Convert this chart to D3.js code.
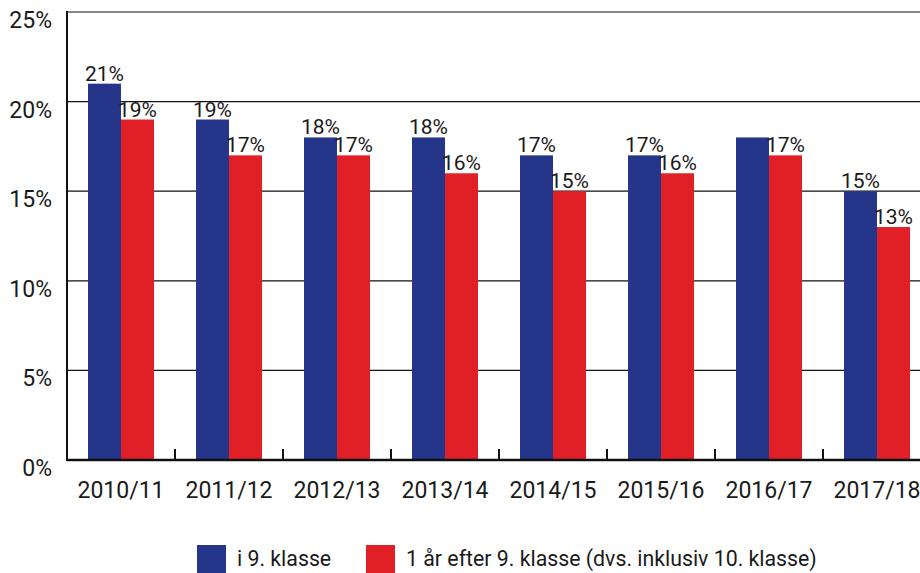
<!doctype html>
<html>
<head>
<style>
    body { margin: 0; background: #fff; }
    text { font-family: Roboto, "Liberation Sans", sans-serif; fill: #1a1a1a; }
</style>
<script src="https://d3js.org/d3.v7.min.js"></script>
</head>
<body>
<svg id="chart" width="920" height="573"></svg>
<script>

    // Data
    var years = ["2010/11", "2011/12", "2012/13", "2013/14", "2014/15", "2015/16", "2016/17", "2017/18"];
    var inNinth = [21, 19, 18, 18, 17, 17, 18, 15];
    var afterNinth = [19, 17, 17, 16, 15, 16, 17, 13];
    // the 2016/17 blue label is not shown in the original
    var inNinthLabels = ["21%", "19%", "18%", "18%", "17%", "17%", null, "15%"];
    var afterNinthLabels = ["19%", "17%", "17%", "16%", "15%", "16%", "17%", "13%"];
    var yTicks = [0, 5, 10, 15, 20, 25];
    var seriesNames = ["i 9. klasse", "1 år efter 9. klasse (dvs. inklusiv 10. klasse)"];
    var colors = ["#25368a", "#e11f26"];

    var svg = d3.select("#chart");
    var plotLeft = 67, plotTop = 12, plotBottom = 460, step = 108;

    var x = d3.scaleBand()
      .domain(years)
      .range([plotLeft, plotLeft + step * years.length])
      .paddingInner(0).paddingOuter(0);

    var xs = d3.scaleBand()
      .domain([0, 1])
      .range([21, 87]);

    var y = d3.scaleLinear()
      .domain([0, 25])
      .range([plotBottom, plotTop]);

    // gridlines
    svg.append("g")
      .selectAll("line")
      .data(yTicks.filter(function (d) { return d > 0; }))
      .enter().append("line")
        .attr("x1", plotLeft).attr("x2", 920)
        .attr("y1", function (d) { return y(d); })
        .attr("y2", function (d) { return y(d); })
        .attr("stroke", "#111").attr("stroke-width", 1.2);

    // y labels
    svg.append("g")
      .selectAll("text")
      .data(yTicks)
      .enter().append("text")
        .attr("x", 52)
        .attr("y", function (d) { return y(d) + 16; })
        .attr("text-anchor", "end")
        .attr("font-size", 23)
        .text(function (d) { return d + "%"; });

    // bars
    var series = [inNinth, afterNinth];
    var labels = [inNinthLabels, afterNinthLabels];
    series.forEach(function (vals, s) {
      svg.append("g")
        .selectAll("rect")
        .data(vals)
        .enter().append("rect")
          .attr("x", function (d, i) { return x(years[i]) + xs(s); })
          .attr("y", function (d) { return y(d); })
          .attr("width", xs.bandwidth())
          .attr("height", function (d) { return plotBottom - y(d); })
          .attr("fill", colors[s]);
    });
    series.forEach(function (vals, s) {
      svg.append("g")
        .selectAll("text")
        .data(vals)
        .enter().append("text")
          .attr("x", function (d, i) { return x(years[i]) + xs(s) + xs.bandwidth() / 2; })
          .attr("y", function (d) { return y(d) - 3; })
          .attr("text-anchor", "middle")
          .attr("font-size", 21)
          .text(function (d, i) { return labels[s][i]; });
    });

    // axes lines
    svg.append("line")
      .attr("x1", plotLeft).attr("x2", plotLeft).attr("y1", plotTop - 1).attr("y2", plotBottom + 1)
      .attr("stroke", "#111").attr("stroke-width", 2);
    svg.append("line")
      .attr("x1", plotLeft).attr("x2", 920).attr("y1", plotBottom).attr("y2", plotBottom)
      .attr("stroke", "#111").attr("stroke-width", 2.5);

    // x ticks at category boundaries
    svg.append("g")
      .selectAll("line")
      .data(years)
      .enter().append("line")
        .attr("x1", function (d) { return x(d); })
        .attr("x2", function (d) { return x(d); })
        .attr("y1", plotBottom - 11).attr("y2", plotBottom)
        .attr("stroke", "#111").attr("stroke-width", 2);

    // x labels
    svg.append("g")
      .selectAll("text")
      .data(years)
      .enter().append("text")
        .attr("x", function (d) { return x(d) + x.bandwidth() / 2; })
        .attr("y", 498)
        .attr("text-anchor", "middle")
        .attr("font-size", 23)
        .text(function (d) { return d; });

    // legend
    var legX = [197, 366];
    var legend = svg.append("g");
    seriesNames.forEach(function (name, i) {
      legend.append("rect")
        .attr("x", legX[i]).attr("y", 545)
        .attr("width", 29).attr("height", 28)
        .attr("fill", colors[i]);
      legend.append("text")
        .attr("x", legX[i] + 40).attr("y", 566)
        .attr("font-size", 21.3)
        .text(name);
    });

</script>
</body>
</html>
